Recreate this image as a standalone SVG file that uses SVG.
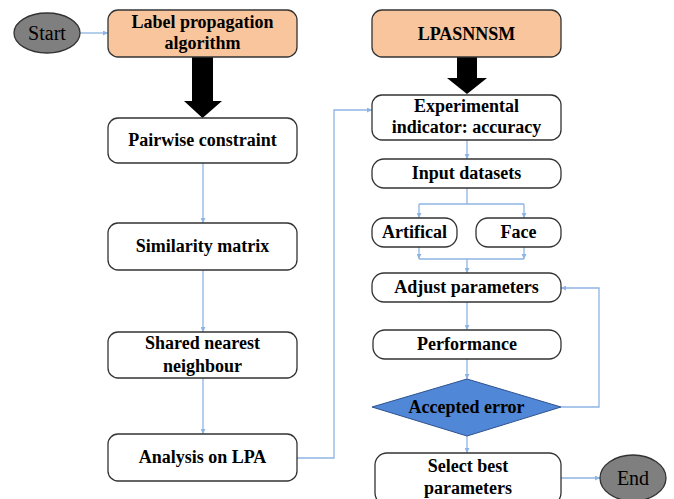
<svg xmlns="http://www.w3.org/2000/svg" width="674" height="499" viewBox="0 0 674 499">
<defs>
<style>
.box{fill:#fff;stroke:#333;stroke-width:1.3}
.orange{fill:#F8C59C;stroke:#333;stroke-width:1.3}
.term{fill:#7F7F7F;stroke:#333;stroke-width:1.3}
.t{font-family:"Liberation Serif","Times New Roman",serif;font-weight:bold;font-size:18px;fill:#000;text-anchor:middle}
.tt{font-family:"Liberation Serif",serif;font-size:20px;fill:#000;text-anchor:middle}
.c{fill:none;stroke:#8EB4E3;stroke-width:1.3}
</style>
<marker id="ah" viewBox="0 0 10 10" refX="10" refY="5" markerWidth="5" markerHeight="5" orient="auto" markerUnits="userSpaceOnUse">
<path d="M0,0 L10,5 L0,10 z" fill="#8EB4E3"/>
</marker>
</defs>
<rect width="674" height="499" fill="#fff"/>
<g id="connectors">
<path class="c" d="M80,33 H108" marker-end="url(#ah)"/>
<path class="c" d="M203,163 V223" marker-end="url(#ah)"/>
<path class="c" d="M203,270 V332" marker-end="url(#ah)"/>
<path class="c" d="M203,378 V434" marker-end="url(#ah)"/>
<path class="c" d="M297,458 H334 V110 H372" marker-end="url(#ah)"/>
<path class="c" d="M467,140 V159" marker-end="url(#ah)"/>
<path class="c" d="M467,188 V204"/>
<path class="c" d="M419,204 H524"/>
<path class="c" d="M419,204 V218" marker-end="url(#ah)"/>
<path class="c" d="M524,204 V218" marker-end="url(#ah)"/>
<path class="c" d="M419,247 V259" marker-end="url(#ah)"/>
<path class="c" d="M524,247 V259" marker-end="url(#ah)"/>
<path class="c" d="M419,259 H524"/>
<path class="c" d="M467,259 V273" marker-end="url(#ah)"/>
<path class="c" d="M467,302 V330" marker-end="url(#ah)"/>
<path class="c" d="M467,359 V379" marker-end="url(#ah)"/>
<path class="c" d="M561,407 H599 V288 H561" marker-end="url(#ah)"/>
<path class="c" d="M467,436 V453" marker-end="url(#ah)"/>
<path class="c" d="M561,478 H600" marker-end="url(#ah)"/>
<path d="M192,57 H213 V101 H222 L202.5,118 L184,101 H192 Z" fill="#000"/>
<path d="M457,57 H477 V78 H487 L467,94 L447,78 H457 Z" fill="#000"/>
</g>
<g id="start"><ellipse class="term" cx="47" cy="33" rx="33" ry="20"/><text class="tt" x="47" y="40">Start</text></g>
<g id="lpa"><rect class="orange" x="108" y="10" width="189" height="47" rx="10"/><text class="t" x="202.5" y="28">Label propagation</text><text class="t" x="202.5" y="49">algorithm</text></g>
<g id="pairwise"><rect class="box" x="108" y="118" width="189" height="45" rx="10"/><text class="t" x="202.5" y="146">Pairwise constraint</text></g>
<g id="similarity"><rect class="box" x="108" y="223" width="189" height="47" rx="10"/><text class="t" x="202.5" y="252">Similarity matrix</text></g>
<g id="shared"><rect class="box" x="108" y="332" width="189" height="46" rx="10"/><text class="t" x="202.5" y="349">Shared nearest</text><text class="t" x="202.5" y="372">neighbour</text></g>
<g id="analysis"><rect class="box" x="108" y="434" width="189" height="47" rx="10"/><text class="t" x="202.5" y="463">Analysis on LPA</text></g>
<g id="lpasnnsm"><rect class="orange" x="372" y="10" width="189" height="47" rx="10"/><text class="t" x="466.5" y="40">LPASNNSM</text></g>
<g id="experimental"><rect class="box" x="372" y="95" width="189" height="45" rx="10"/><text class="t" x="466.5" y="112">Experimental</text><text class="t" x="466.5" y="133">indicator: accuracy</text></g>
<g id="input"><rect class="box" x="372" y="159" width="189" height="29" rx="12"/><text class="t" x="466.5" y="179">Input datasets</text></g>
<g id="artifical"><rect class="box" x="372" y="218" width="85" height="29" rx="12"/><text class="t" x="414.5" y="238">Artifical</text></g>
<g id="face"><rect class="box" x="476" y="218" width="85" height="29" rx="12"/><text class="t" x="518.5" y="238">Face</text></g>
<g id="adjust"><rect class="box" x="372" y="273" width="189" height="29" rx="12"/><text class="t" x="466.5" y="293">Adjust parameters</text></g>
<g id="performance"><rect class="box" x="373" y="330" width="188" height="29" rx="12"/><text class="t" x="467" y="350">Performance</text></g>
<g id="accepted"><polygon points="372,407 467,379 561,407 467,436" fill="#5087D6" stroke="#2F528F" stroke-width="1"/><text class="t" x="466.5" y="413">Accepted error</text></g>
<g id="select"><rect class="box" x="375" y="453" width="186" height="52" rx="12"/><text class="t" x="468" y="472">Select best</text><text class="t" x="468" y="494">parameters</text></g>
<g id="end"><ellipse class="term" cx="633" cy="478" rx="33" ry="23"/><text class="tt" x="633" y="485">End</text></g>
</svg>
